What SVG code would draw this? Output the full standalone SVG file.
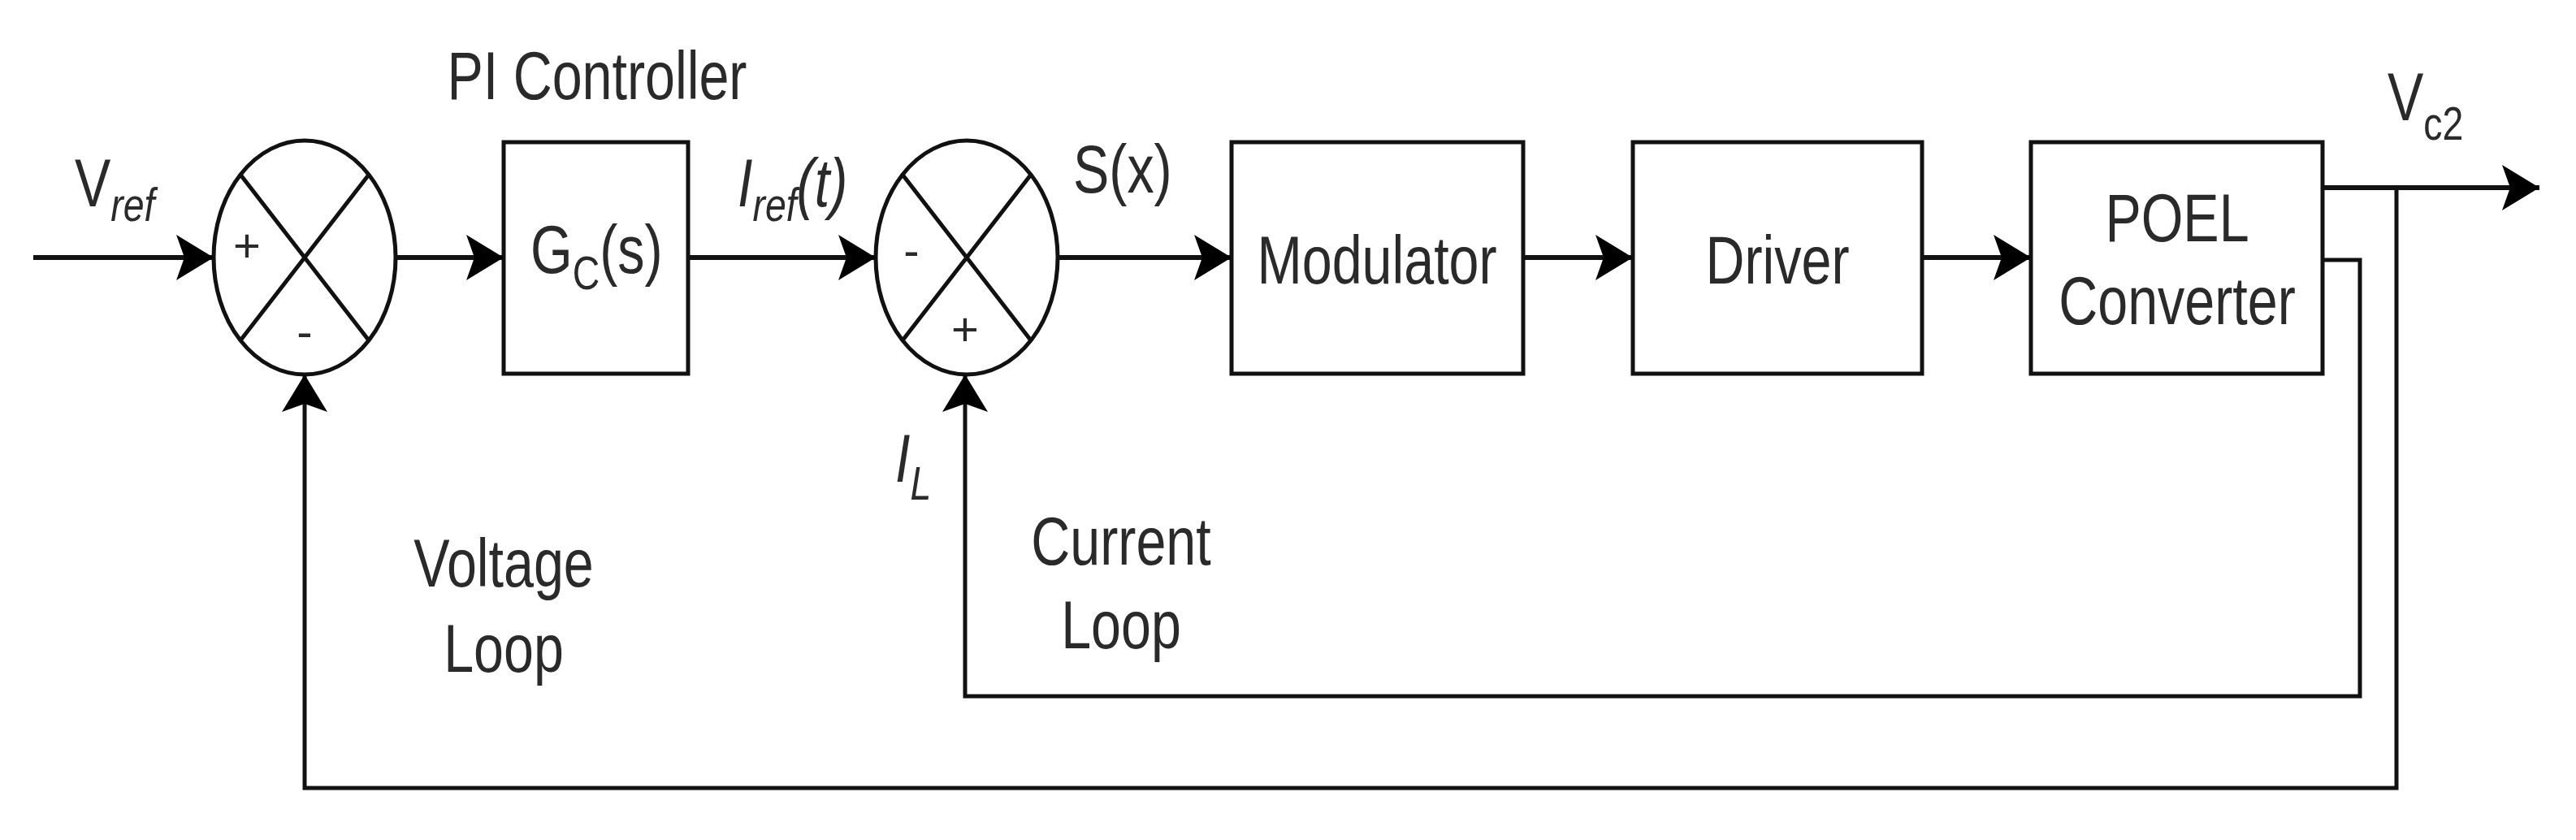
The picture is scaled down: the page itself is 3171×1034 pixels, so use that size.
<svg xmlns="http://www.w3.org/2000/svg" width="3171" height="1034" viewBox="0 0 3171 1034">
<style>
.b{fill:#fff;stroke:#111;stroke-width:5}
.x{stroke:#111;stroke-width:5;fill:none}
.c{stroke:#111;stroke-width:6;fill:none}
.f{stroke:#111;stroke-width:5;fill:none}
text{font-family:"Liberation Sans",Arial,sans-serif;font-size:83px;fill:#2a2a2a}
.s{font-size:58px}
.sub{font-size:58px}
</style>
<defs>
<marker id="a" markerUnits="userSpaceOnUse" markerWidth="50" markerHeight="56" refX="46" refY="28" orient="auto"><path d="M0,0 L46,28 L0,56 L10,28 Z" fill="#000"/></marker>
</defs>
<rect width="3171" height="1034" fill="#fff"/>
<g id="sum1">
<ellipse class="b" cx="375" cy="317" rx="112" ry="144"/>
<path class="x" d="M296,215 L454,419 M454,215 L296,419"/>
<text class="s" x="304" y="322" text-anchor="middle">+</text>
<text class="s" x="375" y="428" text-anchor="middle">-</text>
</g>
<g id="gc">
<rect class="b" x="620" y="175" width="227" height="285"/>
<g transform="translate(653,336) scale(0.8,1)"><text>G<tspan class="sub" dy="20">C</tspan><tspan dy="-20">(s)</tspan></text></g>
</g>
<g id="sum2">
<ellipse class="b" cx="1190" cy="317" rx="112" ry="144"/>
<path class="x" d="M1111,215 L1269,419 M1269,215 L1111,419"/>
<text class="s" x="1122" y="328" text-anchor="middle">-</text>
<text class="s" x="1188" y="425" text-anchor="middle">+</text>
</g>
<g id="mod">
<rect class="b" x="1516" y="175" width="359" height="285"/>
<g transform="translate(1695,349) scale(0.8,1)"><text text-anchor="middle">Modulator</text></g>
</g>
<g id="drv">
<rect class="b" x="2010" y="175" width="356" height="285"/>
<g transform="translate(2188,349) scale(0.8,1)"><text text-anchor="middle">Driver</text></g>
</g>
<g id="poel">
<rect class="b" x="2500" y="175" width="359" height="285"/>
<g transform="translate(2680,297) scale(0.8,1)"><text text-anchor="middle">POEL</text></g>
<g transform="translate(2680,399) scale(0.8,1)"><text text-anchor="middle">Converter</text></g>
</g>
<g id="connectors">
<path class="c" d="M41,317 H263" marker-end="url(#a)"/>
<path class="c" d="M487,317 H620" marker-end="url(#a)"/>
<path class="c" d="M847,317 H1078" marker-end="url(#a)"/>
<path class="c" d="M1302,317 H1516" marker-end="url(#a)"/>
<path class="c" d="M1875,317 H2010" marker-end="url(#a)"/>
<path class="c" d="M2366,317 H2500" marker-end="url(#a)"/>
<path class="c" d="M2859,231 H3126" marker-end="url(#a)"/>
<path class="f" d="M2950,231 V970 H375 V461" marker-end="url(#a)"/>
<path class="f" d="M2859,320 H2905 V857 H1188 V461" marker-end="url(#a)"/>
</g>
<g id="labels">
<g transform="translate(735,122) scale(0.8,1)"><text text-anchor="middle">PI Controller</text></g>
<g transform="translate(92,254) scale(0.8,1)"><text>V<tspan class="sub" dy="18" font-style="italic">ref</tspan></text></g>
<g transform="translate(908,254) scale(0.8,1)"><text font-style="italic">I<tspan class="sub" dy="18">ref</tspan><tspan dy="-18">(t)</tspan></text></g>
<g transform="translate(1321,237) scale(0.8,1)"><text>S(x)</text></g>
<g transform="translate(1102,593) scale(0.8,1)"><text font-style="italic">I<tspan class="sub" dy="22">L</tspan></text></g>
<g transform="translate(2939,148) scale(0.8,1)"><text>V<tspan class="sub" dy="24">c2</tspan></text></g>
<g transform="translate(620,722) scale(0.8,1)"><text text-anchor="middle">Voltage</text></g>
<g transform="translate(620,827) scale(0.8,1)"><text text-anchor="middle">Loop</text></g>
<g transform="translate(1380,695) scale(0.8,1)"><text text-anchor="middle">Current</text></g>
<g transform="translate(1380,798) scale(0.8,1)"><text text-anchor="middle">Loop</text></g>
</g>
</svg>
